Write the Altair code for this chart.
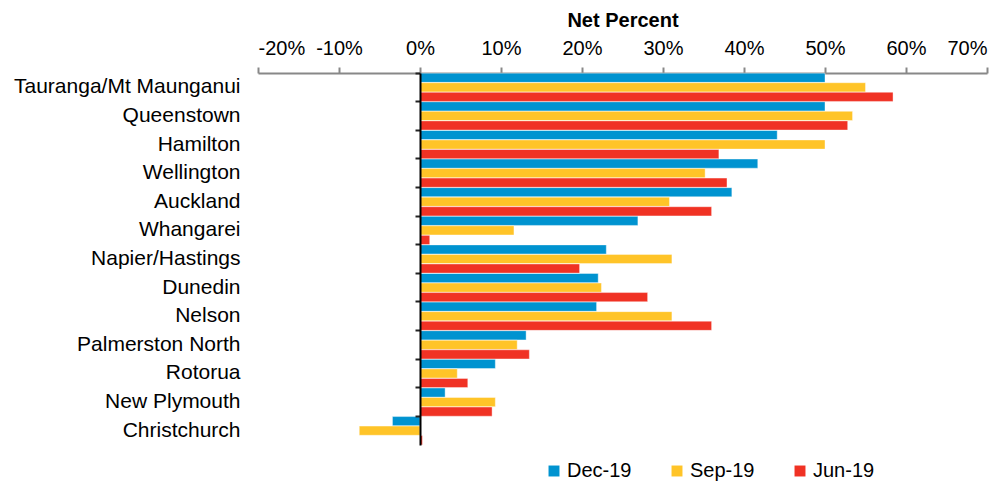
import altair as alt
import pandas as pd

cities = ["Tauranga/Mt Maunganui", "Queenstown", "Hamilton", "Wellington", "Auckland",
          "Whangarei", "Napier/Hastings", "Dunedin", "Nelson", "Palmerston North",
          "Rotorua", "New Plymouth", "Christchurch"]
series = ["Dec-19", "Sep-19", "Jun-19"]
dec19 = [50.0, 50.0, 44.1, 41.7, 38.5, 26.9, 23.0, 22.0, 21.8, 13.1, 9.3, 3.1, -3.4]
sep19 = [55.0, 53.4, 50.0, 35.2, 30.8, 11.6, 31.1, 22.4, 31.1, 12.0, 4.6, 9.3, -7.5]
jun19 = [58.4, 52.8, 36.9, 37.9, 36.0, 1.2, 19.7, 28.1, 36.0, 13.5, 5.9, 8.9, 0.3]
x_ticks = [-20, -10, 0, 10, 20, 30, 40, 50, 60, 70]
colors = ["#0093D0", "#FFC428", "#F03224"]

rows = []
for name, vals in zip(series, [dec19, sep19, jun19]):
    for c, v in zip(cities, vals):
        rows.append({"City": c, "Series": name, "Value": v})
df = pd.DataFrame(rows)

FONT = "Liberation Sans"

chart = alt.Chart(df).mark_bar(stroke="white", strokeWidth=0.4).encode(
    x=alt.X("Value:Q",
            scale=alt.Scale(domain=[-20, 70], nice=False, zero=False),
            axis=alt.Axis(orient="top", values=x_ticks,
                          labelExpr="round(datum.value) + '%'",
                          title="Net Percent", titleFont=FONT, titleFontSize=20, titleFontWeight="bold",
                          titleColor="black", titlePadding=8,
                          labelFont=FONT, labelFontSize=20, labelColor="black", labelPadding=9,
                          domainColor="#888888", domainWidth=2, tickColor="#888888", tickWidth=2,
                          tickSize=6, grid=False)),
    y=alt.Y("City:N", sort=cities,
            scale=alt.Scale(paddingInner=0, paddingOuter=0),
            axis=alt.Axis(title=None, offset=-162, bandPosition=0, zindex=1,
                          labelFont=FONT, labelFontSize=21, labelColor="black", labelPadding=175,
                          labelLimit=400,
                          domainColor="black", domainWidth=2, tickColor="#222222", tickWidth=2,
                          tickSize=5, grid=False)),
    yOffset=alt.YOffset("Series:N", sort=series, scale=alt.Scale(paddingInner=0.04, paddingOuter=0.02)),
    color=alt.Color("Series:N", sort=series,
                    scale=alt.Scale(domain=series, range=colors),
                    legend=alt.Legend(title=None, orient="none", direction="horizontal",
                                      legendX=286, legendY=388, symbolType="square",
                                      symbolSize=120, symbolStrokeWidth=0, labelFont=FONT,
                                      labelFontSize=20, labelColor="black", columnPadding=35,
                                      labelOffset=3)),
).properties(
    width=729, height=372,
    autosize=alt.AutoSizeParams(type="none"),
    padding={"left": 250, "top": 65, "right": 13, "bottom": 40},
).configure_view(stroke=None)

chart.save("out.html", embed_options={"renderer": "svg", "actions": False})
